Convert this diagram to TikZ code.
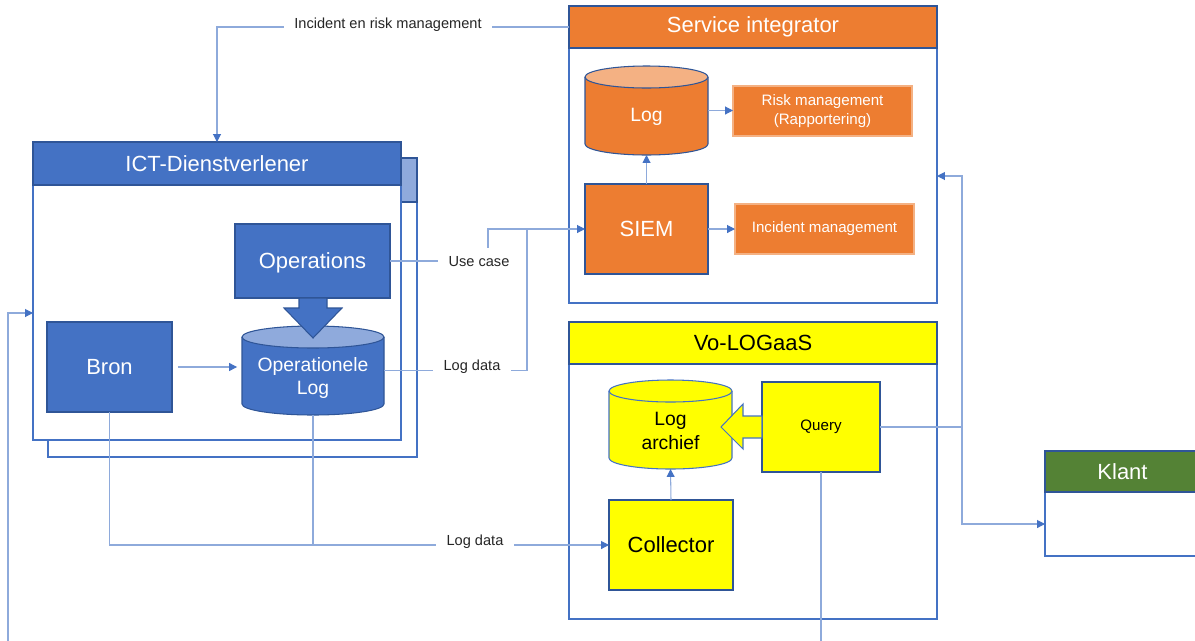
\documentclass[tikz,border=0pt]{standalone}
\usepackage{fontspec}
\setmainfont{Liberation Sans}
\usetikzlibrary{arrows.meta}
\definecolor{bluem}{HTML}{4472C4}
\definecolor{bluel}{HTML}{8FAADC}
\definecolor{blued}{HTML}{2F5597}
\definecolor{linec}{HTML}{8EAADB}
\definecolor{orangem}{HTML}{ED7D31}
\definecolor{orangel}{HTML}{F4B183}
\definecolor{yellowm}{HTML}{FFFF00}
\definecolor{greenm}{HTML}{548235}
\definecolor{labelc}{HTML}{262626}
\newcommand{\mycyl}[7]{%
 \fill[#5] (#1-#4,#2) -- (#1-#4,#3) arc[start angle=180,end angle=0,x radius=#4,y radius=11] -- (#1+#4,#2) -- cycle;
 \draw[#7, line width=0.6pt] (#1-#4,#2) -- (#1-#4,#3) arc[start angle=180,end angle=0,x radius=#4,y radius=11] -- (#1+#4,#2);
 \filldraw[fill=#6, draw=#7, line width=0.6pt] (#1,#2) ellipse[x radius=#4, y radius=11];
}
\begin{document}
\begin{tikzpicture}[x=0.02cm,y=-0.02cm,
  wh/.style 2 args={rectangle, minimum width=#1*0.02cm, minimum height=#2*0.02cm, inner sep=0pt, outer sep=0pt},
  big/.style={font=\fontsize{12.5}{15}\selectfont, align=center},
  mid/.style={font=\fontsize{11}{13.4}\selectfont, align=center},
  small/.style={font=\fontsize{8.6}{10.8}\selectfont, align=center},
  lbl/.style={font=\fontsize{8.3}{10}\selectfont, fill=white, text=labelc, inner xsep=6pt, inner ysep=5pt},
  cont/.style={draw=bluem, line width=0.9pt, fill=white},
  headbox/.style={draw=blued, line width=0.9pt},
  inbox/.style={draw=blued, line width=0.6pt},
  conn/.style={draw=linec, line width=0.6pt},
  arr/.style={conn, -{Triangle[length=4.5pt,width=4.5pt,color=bluem]}},
]
\fill[white] (0,0) rectangle (1195,640);
\useasboundingbox (0,0) rectangle (1195,640);

% ---------- ICT-Dienstverlener ----------
\node[wh={369}{299}, cont] (ictback) at (232.5,307.5) {};
\node[wh={369}{44}, headbox, fill=bluel] (ictbackhead) at (232.5,180) {};
\node[wh={368}{298}, cont] (ict) at (217,291) {};
\node[wh={368}{43}, headbox, fill=bluem, text=white, big] (icthead) at (217,163.5) {ICT-Dienstverlener};

\node[wh={155}{74}, inbox, fill=bluem, text=white, big, text depth=0pt] (ops) at (312.5,261) {Operations};
\node[wh={125}{90}, inbox, fill=bluem, text=white, big] (bron) at (109.5,367) {Bron};
\node[wh={142}{89}] (oplog) at (313,370.5) {};
\mycyl{313}{337}{404}{71}{bluem}{bluel}{blued}
\filldraw[fill=bluem, draw=blued, line width=0.6pt] (299,298) -- (327,298) -- (327,308) -- (342,308) -- (313,338) -- (284,308) -- (299,308) -- cycle;
\node[mid, text=white] (oplogtxt) at (313,378) {Operationele\\Log};

% ---------- Service integrator ----------
\node[wh={368}{297}, cont] (si) at (753,154.5) {};
\node[wh={368}{42}, headbox, fill=orangem, text=white, big] (sihead) at (753,27) {Service integrator};
\node[wh={123}{89}] (log) at (646.5,110.5) {};
\mycyl{646.5}{77}{144}{61.5}{orangem}{orangel}{blued}
\node[mid, text=white] (logtxt) at (646.5,117) {Log};
\node[wh={179}{50}, draw=orangel, line width=0.6pt, fill=orangem, text=white, small] (risk) at (822.5,111) {Risk management\\(Rapportering)};
\node[wh={123}{90}, inbox, fill=orangem, text=white, big] (siem) at (646.5,229) {SIEM};
\node[wh={179}{50}, draw=orangel, line width=0.6pt, fill=orangem, text=white, small] (inc) at (824.5,229) {Incident management};

% ---------- Vo-LOGaaS ----------
\node[wh={368}{297}, cont] (vo) at (753,470.5) {};
\node[wh={368}{42}, headbox, fill=yellowm, text=black, big] (vohead) at (753,343) {Vo-LOGaaS};
\node[wh={123}{89}] (arch) at (670.5,424.5) {};
\mycyl{670.5}{391}{458}{61.5}{yellowm}{yellowm}{bluem}
\node[mid] (archtxt) at (670.5,431) {Log\\archief};
\node[wh={118}{90}, inbox, fill=yellowm, small] (query) at (821,427) {Query};
\filldraw[fill=yellowm, draw=bluem, line width=0.6pt] (762,416) -- (743,416) -- (743,404) -- (721,427) -- (743,449) -- (743,438) -- (762,438) -- cycle;
\node[wh={124}{90}, inbox, fill=yellowm, big] (coll) at (671,545) {Collector};

% ---------- Klant ----------
\node[wh={155}{105}, cont] (klant) at (1122.5,503.5) {};
\node[wh={155}{41}, headbox, fill=greenm, text=white, big] (klanthead) at (1122.5,471.5) {Klant};

% ---------- connectors ----------
\coordinate (botL) at (8,660);
\coordinate (botQ) at (821,660);

\draw[arr] (sihead.west) -| (icthead.north);
\draw[arr] (ops.east) -- (488,261) -- (488,229) -- (siem.west);
\draw[conn] (oplog.east) -- (527,370.5) -- (527,229);
\draw[arr, shorten <=3.4pt, shorten >=2.8pt] (bron.east) -- (bron.east -| oplog.west);
\draw[conn] (bron.south) |- (oplog.south |- coll.west);
\draw[arr] (oplog.south) |- (coll.west);
\draw[arr] (query.east) -- (962,427) |- (si.east |- 0,176);
\draw[arr] (962,427) |- (klant.west |- 0,524);
\draw[conn] (query.south) -- (botQ);
\draw[arr] (botL) |- (ict.west |- 0,313);
\draw[arr] (log.east) -- (log.east -| risk.west);
\draw[arr] (siem.east) -- (inc.west);
\draw[arr] (siem.north) -- (log.south);
\draw[arr] (coll.north) -- (arch.south);

% ---------- labels ----------
\node[lbl] (lblinc) at (388,25) {Incident en risk management};
\node[lbl] (lbluc) at (479,262) {Use case};
\node[lbl] (lblld1) at (472,367) {Log data};
\node[lbl] (lblld2) at (475,542) {Log data};
\end{tikzpicture}
\end{document}
